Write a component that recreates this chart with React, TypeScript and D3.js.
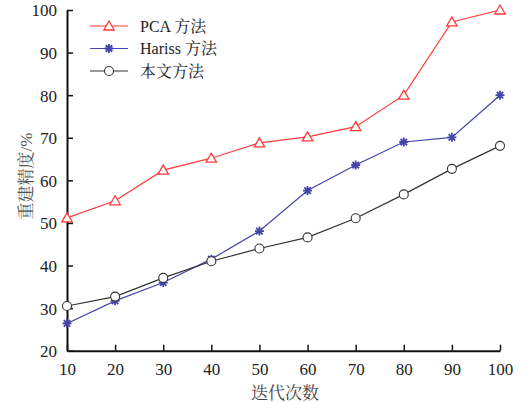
import React, { useEffect, useRef } from "react";
import * as d3 from "d3";

const iterations = [10, 20, 30, 40, 50, 60, 70, 80, 90, 100];
const pcaValues = [51.2, 55.2, 62.4, 65.2, 68.8, 70.2, 72.6, 80, 97.2, 100];
const harissValues = [26.4, 31.7, 36, 41.5, 48.1, 57.6, 63.6, 69, 70.1, 80];
const oursValues = [30.5, 32.7, 37.1, 41, 44, 46.6, 51.1, 56.7, 62.7, 68.1];
const yTicks = [20, 30, 40, 50, 60, 70, 80, 90, 100];
const seriesNames = ["PCA 方法", "Hariss 方法", "本文方法"];

const FONT = "\"Liberation Serif\", \"Noto Serif CJK SC\"";

function App() {
  const ref = useRef<SVGSVGElement>(null);

  useEffect(() => {
    const svg = d3.select(ref.current);
    svg.selectAll("*").remove();

    const x = d3.scaleLinear().domain([10, 100]).range([67, 500]);
    const y = d3.scaleLinear().domain([20, 100]).range([350.7, 10]);

    // axes (ticks pointing inward)
    const gx = svg.append("g").attr("transform", "translate(0," + y(20) + ")");
    gx.call(d3.axisBottom(x).tickValues(iterations).tickSize(-6).tickPadding(12).tickSizeOuter(0));
    const gy = svg.append("g").attr("transform", "translate(" + x(10) + ",0)");
    gy.call(d3.axisLeft(y).tickValues(yTicks).tickSize(-6).tickPadding(10).tickSizeOuter(0));
    [gx, gy].forEach((g) => {
      g.attr("font-family", null).attr("font-size", null);
      g.select(".domain").attr("stroke", "#111").attr("stroke-width", 2);
      g.selectAll(".tick line").attr("stroke", "#111").attr("stroke-width", 1.5);
      g.selectAll(".tick text").attr("fill", "#222");
    });
    gy.selectAll(".tick text").attr("dy", "0.35em");

    // axis titles
    svg.append("text")
      .attr("x", 285)
      .attr("y", 399)
      .attr("text-anchor", "middle")
      .attr("fill", "#444")
      .text("迭代次数");
    svg.append("text")
      .attr("transform", "translate(32,176) rotate(-90)")
      .attr("text-anchor", "middle")
      .attr("fill", "#555")
      .text("重建精度/%");

    const series = [
      { name: seriesNames[0], values: pcaValues, color: "#ff3b3b", marker: "triangle" },
      { name: seriesNames[1], values: harissValues, color: "#4444aa", marker: "star" },
      { name: seriesNames[2], values: oursValues, color: "#333333", marker: "circle" },
    ];

    const drawMarker = (g: any, type: string, cx: number, cy: number, color: string) => {
      if (type === "triangle") {
        g.append("path")
          .attr("d", `M${cx},${cy - 5}L${cx + 5.2},${cy + 4}L${cx - 5.2},${cy + 4}Z`)
          .attr("fill", "#fff")
          .attr("stroke", color)
          .attr("stroke-width", 1.3);
      } else if (type === "circle") {
        g.append("circle")
          .attr("cx", cx)
          .attr("cy", cy)
          .attr("r", 4.5)
          .attr("fill", "#fff")
          .attr("stroke", color)
          .attr("stroke-width", 1.1);
      } else {
        const r = 4.5;
        const d = r * 0.72;
        g.append("path")
          .attr("d", `M${cx - r},${cy}L${cx + r},${cy}M${cx},${cy - r}L${cx},${cy + r}M${cx - d},${cy - d}L${cx + d},${cy + d}M${cx - d},${cy + d}L${cx + d},${cy - d}`)
          .attr("stroke", color)
          .attr("stroke-width", 1.8)
          .attr("fill", "none");
      }
    };

    const line = d3.line<number>()
      .x((d, i) => x(iterations[i]))
      .y((d) => y(d));

    series.forEach((s) => {
      const g = svg.append("g");
      g.append("path")
        .attr("d", line(s.values))
        .attr("fill", "none")
        .attr("stroke", s.color)
        .attr("stroke-width", 1.2);
      s.values.forEach((v, i) => drawMarker(g, s.marker, x(iterations[i]), y(v), s.color));
    });

    // legend
    series.forEach((s, i) => {
      const ly = 26 + i * 22.5;
      const g = svg.append("g");
      g.append("line")
        .attr("x1", 90)
        .attr("x2", 128)
        .attr("y1", ly)
        .attr("y2", ly)
        .attr("stroke", s.color)
        .attr("stroke-width", 1.2);
      drawMarker(g, s.marker, 109, ly, s.color);
      g.append("text")
        .attr("x", 140)
        .attr("y", ly)
        .attr("dy", "0.35em")
        .style("font-size", "16px")
        .attr("fill", "#222")
        .text(s.name);
    });
  }, []);

  return (
    <svg
      ref={ref}
      width={530}
      height={403}
      style={{ position: "absolute", left: 0, top: 0, background: "#fff", fontFamily: FONT, fontSize: "17px" }}
    />
  );
}

export default App;
